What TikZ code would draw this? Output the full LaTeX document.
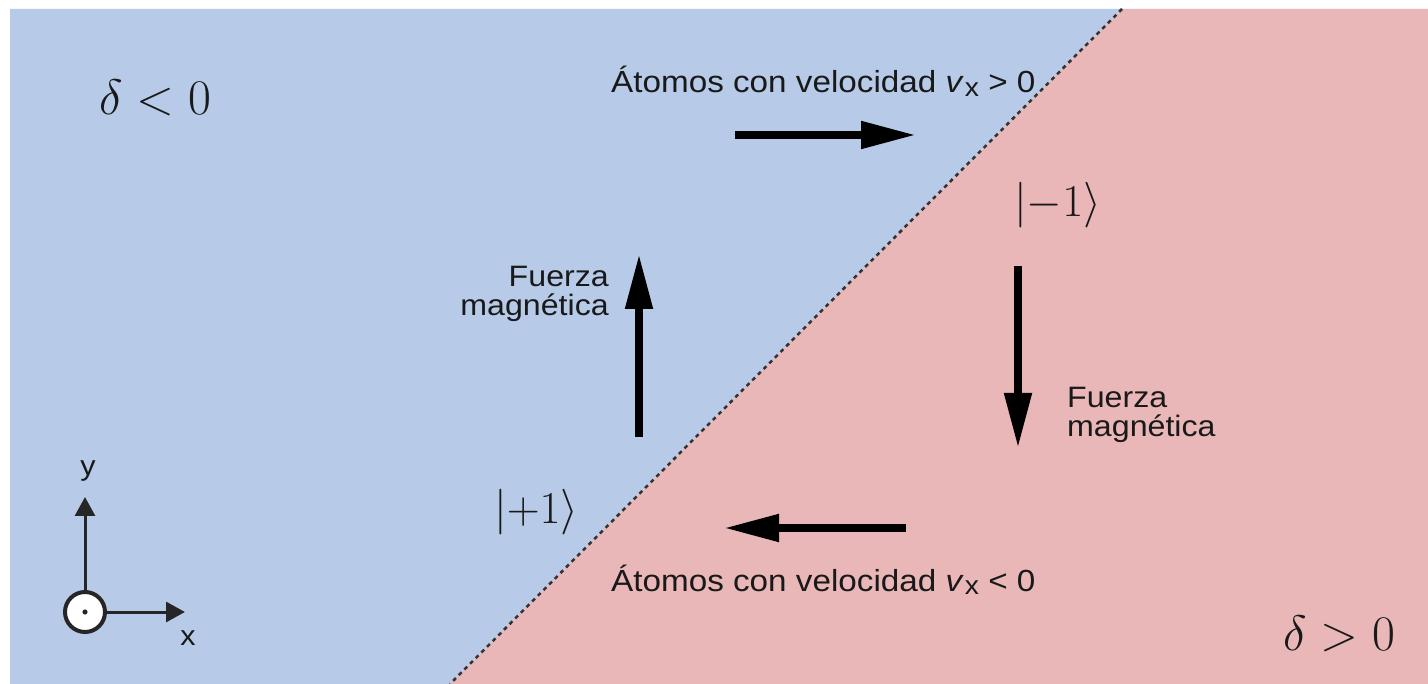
\documentclass[tikz,border=0pt]{standalone}
\usepackage{graphicx}
\usepackage{fontspec}
\setmainfont{Liberation Sans}[FakeStretch=1.09]
\usetikzlibrary{arrows.meta}
\definecolor{bgblue}{HTML}{B7CBE9}
\definecolor{bgpink}{HTML}{EAB7B8}
\definecolor{dashgray}{HTML}{333333}
\newcommand{\vsub}{\textit{v}\kern1pt\raisebox{-0.22ex}{\fontsize{26}{26}\selectfont x}}
\newcommand{\bigmath}[2]{\scalebox{#1}{\fontsize{20.74}{24}\selectfont$#2$}}
\begin{document}
\begin{tikzpicture}[x=1pt,y=-1pt,
  txt/.style={font=\fontsize{30.5}{33}\selectfont, inner sep=0pt, text=black!90},
  force/.style={font=\fontsize{29.5}{29}\selectfont, inner sep=0pt, text=black!90},
  axlbl/.style={font=\fontsize{28}{30}\selectfont, inner sep=0pt, text=black!90},
  mathlbl/.style={inner sep=0pt, text=black!90},
  bigarrow/.style={line width=8pt, -{Triangle[length=55pt,width=26pt]}},
  axisarrow/.style={line width=3pt, draw=black!85, -{Triangle[length=19pt,width=20pt]}},
  divide/.style={line width=2.5pt, draw=dashgray, dash pattern=on 4pt off 4pt}]
\useasboundingbox (0,0) rectangle (1428,684);
\fill[white] (0,0) rectangle (1428,684);
\coordinate (dtop) at (1122,9);
\coordinate (dbot) at (450,684);
\fill[bgblue] (10,9) -- (dtop) -- (dbot) -- (10,684) -- cycle;
\fill[bgpink] (dtop) -- (1428,9) -- (1428,684) -- (dbot) -- cycle;
\draw[divide] (dtop) -- (dbot);

% region labels
\node[mathlbl, anchor=base west] (dneg) at (99,115) {\bigmath{2.4}{\delta<0}};
\node[mathlbl, anchor=base west] (dpos) at (1283,650) {\bigmath{2.4}{\delta>0}};

% kets
\node[mathlbl, anchor=base west] (km) at (1014,217) {\bigmath{2.2}{|{-1}\rangle}};
\node[mathlbl, anchor=base west] (kp) at (494,523) {\bigmath{2.2}{|{+1}\rangle}};

% top text and arrow
\node[txt, anchor=base west] (ttop) at (611,93) {Átomos con velocidad \vsub{} > 0};
\coordinate (ra1) at (735,135);
\coordinate (ra2) at (916,135);
\draw[bigarrow] (ra1) -- (ra2);

% bottom text and arrow
\node[txt, anchor=base west] (tbot) at (611,591) {Átomos con velocidad \vsub{} < 0};
\coordinate (la1) at (906,528);
\coordinate (la2) at (724,528);
\draw[bigarrow] (la1) -- (la2);

% up arrow
\coordinate (ua1) at (639,437);
\coordinate (ua2) at (639,254);
\draw[bigarrow] (ua1) -- (ua2);
\node[force, anchor=north east, align=right] (fl) at (609,266) {Fuerza\\magnética};

% down arrow
\coordinate (da1) at (1018,266);
\coordinate (da2) at (1018,448);
\draw[bigarrow] (da1) -- (da2);
\node[force, anchor=north west, align=left] (fr) at (1067,387) {Fuerza\\magnética};

% axes
\node[circle, draw=black!85, line width=4pt, fill=white, minimum size=40pt, inner sep=0pt] (o) at (85,612) {};
\fill[black!85] (o.center) circle (2.6pt);
\coordinate (yt) at (85,497);
\coordinate (xt) at (185,612);
\draw[axisarrow] (o.north) -- (yt);
\draw[axisarrow] (o.east) -- (xt);
\node[axlbl, anchor=center] (ylab) at (88,471) {y};
\node[axlbl, anchor=center] (xlab) at (188,638) {x};
\end{tikzpicture}
\end{document}
